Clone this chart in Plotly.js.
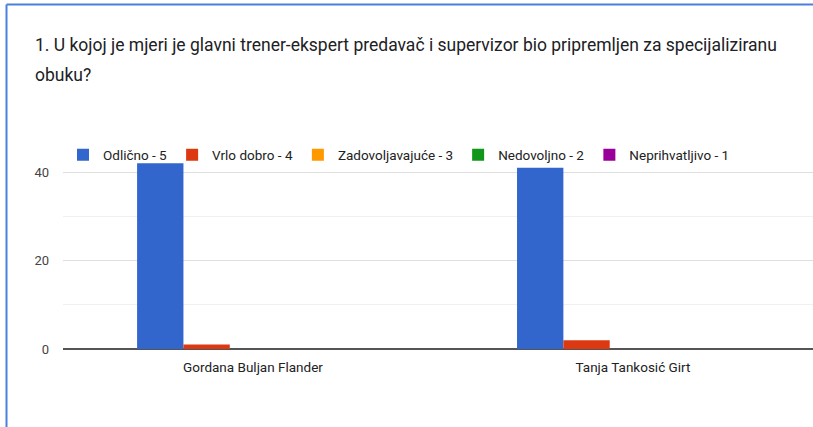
<!DOCTYPE html>
<html>
<head>
<meta charset="utf-8">
<script src="https://cdn.plot.ly/plotly-3.0.1.min.js"></script>
<style>html,body{margin:0;padding:0;background:#fff;overflow:hidden}#chart{width:813px;height:427px}</style>
</head>
<body>
<div id="chart"></div>
<script>
const categories = ["Gordana Buljan Flander", "Tanja Tankosić Girt"];
const seriesNames = ["Odlično - 5", "Vrlo dobro - 4", "Zadovoljavajuće - 3", "Nedovoljno - 2", "Neprihvatljivo - 1"];
const odlicno = [42, 41];
const vrloDobro = [1, 2];
const zadovoljavajuce = [0, 0];
const nedovoljno = [0, 0];
const neprihvatljivo = [0, 0];
const colors = ["#3366cc", "#dc3912", "#ff9900", "#109618", "#990099"];
const titleLine1 = "1. U kojoj je mjeri je glavni trener-ekspert predavač i supervizor bio pripremljen za specijaliziranu";
const titleLine2 = "obuku?";

const seriesValues = [odlicno, vrloDobro, zadovoljavajuce, nedovoljno, neprihvatljivo];
const traces = seriesNames.map((n, i) => ({
  type: "bar",
  name: n,
  x: categories,
  y: seriesValues[i],
  marker: {color: colors[i], line: {width: 0}},
  hoverinfo: "x+y+name"
}));

// plot area geometry
const W = 813, H = 427, L = 63, T = 150, B = 78, R = 0;
const ph = H - T - B, pw = W - L - R;
const py = (pix) => (H - B - pix) / ph;   // pixel y -> paper y
const px = (pix) => (pix - L) / pw;       // pixel x -> paper x

const layout = {
  width: W, height: H,
  margin: {l: L, r: R, t: T, b: B, pad: 0},
  paper_bgcolor: "#ffffff",
  plot_bgcolor: "#ffffff",
  font: {family: "Roboto, Arial, sans-serif", size: 12, color: "#222222"},
  barmode: "group",
  bargap: 0.39,
  bargroupgap: 0,
  showlegend: true,
  legend: {
    orientation: "h",
    x: 0, xanchor: "left",
    y: py(155), yanchor: "middle",
    font: {family: "Roboto, Arial, sans-serif", size: 13.5, color: "#222222"},
    bgcolor: "rgba(0,0,0,0)",
    itemwidth: 30,
    traceorder: "normal"
  },
  xaxis: {
    type: "category",
    range: [-0.5, 1.474],
    showgrid: false,
    zeroline: false,
    showline: false,
    ticks: "",
    ticklabelstandoff: 8,
    tickfont: {size: 13.5, color: "#222222"},
    fixedrange: true
  },
  yaxis: {
    range: [0, 45],
    tickvals: [0, 20, 40],
    ticktext: ["0", "20", "40"],
    showgrid: true,
    gridcolor: "#dedede",
    gridwidth: 1,
    minor: {tickvals: [10, 30], showgrid: true, gridcolor: "#f0f0f0", gridwidth: 1, ticks: ""},
    zeroline: true,
    zerolinecolor: "#555555",
    zerolinewidth: 1.6,
    showline: false,
    ticks: "",
    ticklabelstandoff: 13,
    tickfont: {size: 13, color: "#444444"},
    fixedrange: true
  },
  annotations: [
    {text: titleLine1, xref: "paper", yref: "paper", x: px(33), y: py(45), xanchor: "left", yanchor: "middle",
     showarrow: false, font: {family: "Roboto, Arial, sans-serif", size: 17.5, color: "#202124"}},
    {text: titleLine2, xref: "paper", yref: "paper", x: px(33), y: py(75), xanchor: "left", yanchor: "middle",
     showarrow: false, font: {family: "Roboto, Arial, sans-serif", size: 17.5, color: "#202124"}}
  ],
  shapes: [
    {type: "line", xref: "paper", yref: "paper", x0: px(6.5), x1: px(6.5), y0: py(4.5), y1: py(430), line: {color: "#4a80de", width: 2}},
    {type: "line", xref: "paper", yref: "paper", x0: px(6.5), x1: px(815), y0: py(4.5), y1: py(4.5), line: {color: "#4a80de", width: 2}}
  ]
};

Plotly.newPlot("chart", traces, layout, {displayModeBar: false, staticPlot: true});
</script>
</body>
</html>
